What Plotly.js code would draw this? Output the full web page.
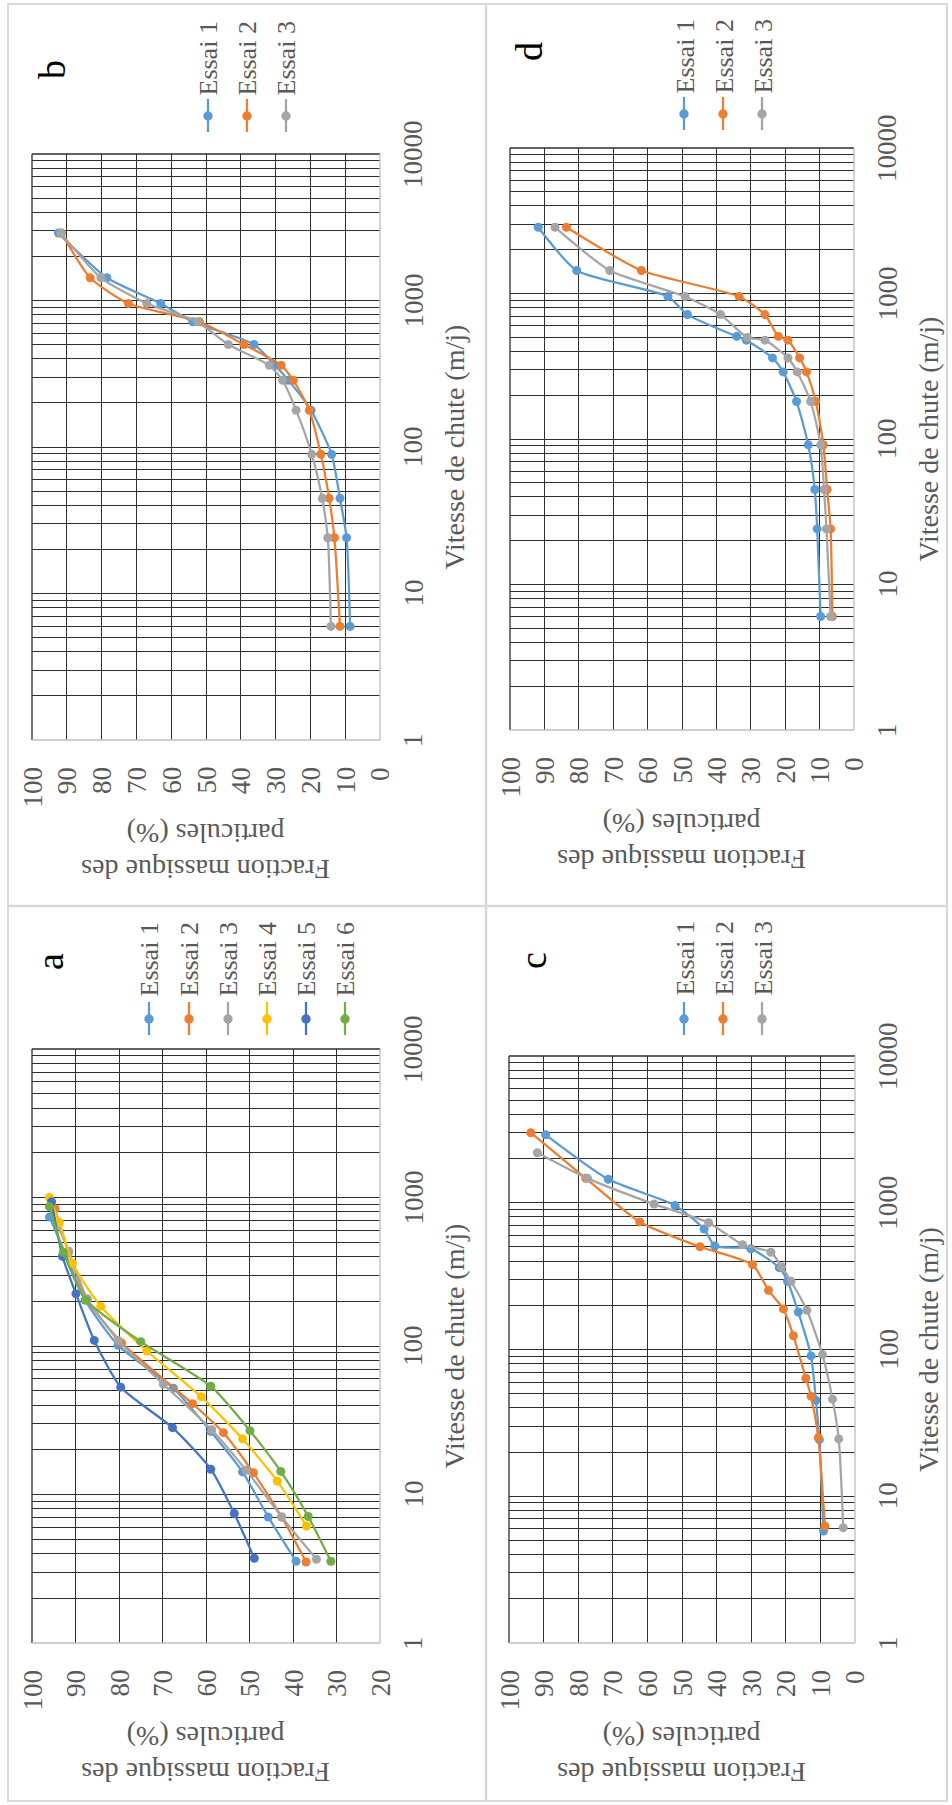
<!DOCTYPE html>
<html><head><meta charset="utf-8">
<script src="https://cdn.plot.ly/plotly-3.0.1.min.js"></script>
<style>html,body{margin:0;padding:0;background:#fff}#chart{width:952px;height:1805px}</style>
</head><body><div id="chart"></div>
<script>
// ---------------- DATA ----------------
const seriesNames = ['Essai 1','Essai 2','Essai 3','Essai 4','Essai 5','Essai 6'];
const seriesColors = ['#5B9BD5','#ED7D31','#A5A5A5','#FFC000','#4472C4','#70AD47'];

// Panel a : velocity (m/j) and mass fraction (%)
const a_v1 = [740, 423, 204, 101, 51.9, 26.6, 14.2, 7.06, 3.55];
const a_f1 = [96.0, 92.4, 87.8, 80.2, 67.5, 58.9, 51.6, 45.7, 39.3];
const a_v2 = [841, 428, 204, 105, 40.9, 26.1, 14.0, 7.06, 3.51];
const a_f2 = [94.7, 91.6, 87.3, 79.4, 63.1, 56.0, 49.1, 42.6, 37.0];
const a_v3 = [869, 437, 208, 109, 55.3, 27.3, 14.6, 7.06, 3.66];
const a_f3 = [95.9, 91.6, 87.3, 80.2, 69.8, 58.7, 50.8, 42.6, 34.6];
const a_v4 = [1000, 679, 360, 185, 92.5, 45.6, 23.7, 12.3, 6.14];
const a_f4 = [96.0, 93.7, 90.7, 84.2, 73.6, 61.1, 51.6, 43.6, 36.9];
const a_v5 = [938, 401, 225, 109, 52.8, 28.2, 14.8, 7.45, 3.72];
const a_f5 = [95.5, 93.0, 89.9, 85.7, 79.6, 67.7, 58.9, 53.5, 48.9];
const a_v6 = [869, 428, 204, 107, 53.6, 26.9, 14.3, 7.11, 3.55];
const a_f6 = [96.0, 92.8, 87.6, 75.0, 58.9, 49.9, 42.8, 36.5, 31.3];

// Panel b
const b_v = [2884, 1429, 953, 716, 501, 361, 285, 178, 89.1, 44.6, 24.0, 5.96];
const b_f1 = [92.4, 78.5, 63.0, 53.8, 36.2, 30.2, 26.3, 19.8, 13.9, 11.5, 9.6, 8.6];
const b_f2 = [91.5, 83.3, 72.3, 51.9, 39.1, 28.4, 24.9, 20.3, 17.0, 14.6, 13.1, 11.5];
const b_f3 = [91.7, 80.2, 67.0, 52.5, 43.6, 31.8, 28.0, 24.1, 19.6, 16.6, 15.0, 14.1];

// Panel c
const c_v1 = [2904, 1445, 959, 662, 507, 485, 361, 292, 180, 90.4, 45.1, 24.3, 5.79];
const c_f1 = [89.4, 71.3, 52.0, 43.6, 40.5, 30.1, 21.9, 19.5, 16.4, 12.7, 11.3, 10.3, 9.1];
const c_v2 = [3000, 1466, 740, 501, 378, 253, 189, 124, 63.7, 48.1, 25.1, 6.27];
const c_f2 = [93.7, 77.8, 62.2, 44.8, 29.6, 25.0, 20.7, 17.8, 14.2, 12.7, 10.6, 8.7];
const c_v3 = [2193, 1466, 979, 731, 518, 460, 366, 292, 185, 92.3, 45.9, 24.6, 6.11];
const c_f3 = [91.8, 77.3, 58.1, 42.3, 32.5, 24.3, 21.2, 18.5, 13.9, 9.4, 6.5, 4.7, 3.4];

// Panel d
const d_v1 = [2851, 1439, 953, 716, 507, 478, 361, 289, 181, 91.2, 45.0, 24.1, 6.03];
const d_f1 = [91.8, 80.6, 54.1, 48.4, 34.1, 31.3, 23.7, 20.6, 16.7, 13.3, 11.4, 10.7, 9.7];
const d_v2 = [2851, 1439, 953, 716, 507, 478, 361, 289, 181, 91.2, 45.0, 24.1, 6.03];
const d_f2 = [83.6, 61.8, 33.4, 25.9, 22.0, 19.2, 15.8, 13.8, 11.1, 8.9, 7.8, 6.8, 6.3];
const d_v3 = [2851, 1439, 953, 716, 498, 478, 361, 289, 181, 91.2, 45.0, 24.1, 6.03];
const d_f3 = [86.9, 71.0, 49.1, 38.8, 31.0, 25.9, 19.2, 16.5, 12.6, 9.7, 8.7, 8.0, 6.8];

// Axis labels
const velTicks = [1, 10, 100, 1000, 10000];
const fracTicksFull = [100, 90, 80, 70, 60, 50, 40, 30, 20, 10, 0];
const fracTicksA = [100, 90, 80, 70, 60, 50, 40, 30, 20];
const xTitle = 'Vitesse de chute (m/j)';
const yTitle = 'Fraction massique des<br>particules (%)';

// ---------------- LAYOUT ----------------
const W = 952, H = 1805;
const FONT = '"Liberation Serif", serif';
const TXT = '#595959';
const GRID = '#2e2e2e';
const EDGE = '#bfbfbf';
const px = x => x / W;
const py = y => 1 - y / H;

const panels = [
  {key:'b', ax:'', box:[32,380,154,740], frange:[100,0], fticks:fracTicksFull,
   series:[[b_v,b_f1],[b_v,b_f2],[b_v,b_f3]], letter:[52,70],
   legX:[208,247,286], legLine:[99,132], legMark:116, legText:98},
  {key:'d', ax:'2', box:[510,854,148,730], frange:[100,0], fticks:fracTicksFull,
   series:[[d_v1,d_f1],[d_v2,d_f2],[d_v3,d_f3]], letter:[529,52],
   legX:[684,723,762], legLine:[97,130], legMark:114, legText:96},
  {key:'a', ax:'3', box:[32,380,1049,1643], frange:[100,20], fticks:fracTicksA,
   series:[[a_v1,a_f1],[a_v2,a_f2],[a_v3,a_f3],[a_v4,a_f4],[a_v5,a_f5],[a_v6,a_f6]], letter:[50,962],
   legX:[149,189,228,267,306,345], legLine:[1002,1035], legMark:1019, legText:999},
  {key:'c', ax:'4', box:[509,855,1056,1643], frange:[100,0], fticks:fracTicksFull,
   series:[[c_v1,c_f1],[c_v2,c_f2],[c_v3,c_f3]], letter:[533,961],
   legX:[684,723,762], legLine:[1002,1035], legMark:1019, legText:998}
];

// log grid values
const velGrid = [];
for (let dec = 0; dec < 4; dec++) for (let m = 1; m <= 9; m++) { const v = m * Math.pow(10, dec); if (v > 1) velGrid.push(v); }
velGrid.push(10000);

const traces = [], annotations = [], shapes = [];
const layout = {
  width: W, height: H, margin: {l:0, r:0, t:0, b:0},
  paper_bgcolor: '#fff', plot_bgcolor: '#fff', showlegend: false,
  font: {family: FONT, color: TXT, size: 27}
};

panels.forEach(p => {
  const xa = 'x' + p.ax, ya = 'y' + p.ax;
  const [x0, x1, y0, y1] = p.box;
  const fmin = Math.min(p.frange[0], p.frange[1]);
  layout['xaxis' + p.ax] = {
    domain: [px(x0), px(x1)], range: p.frange, anchor: ya,
    tickmode: 'array', tickvals: p.fticks.filter(v => v !== fmin),
    showticklabels: false, ticks: '', showgrid: true, gridcolor: GRID, gridwidth: 1,
    zeroline: false, showline: false, fixedrange: true
  };
  layout['yaxis' + p.ax] = {
    domain: [py(y1), py(y0)], type: 'log', range: [0, 4], anchor: xa,
    tickmode: 'array', tickvals: velGrid,
    showticklabels: false, ticks: '', showgrid: true, gridcolor: GRID, gridwidth: 1,
    zeroline: false, showline: false, fixedrange: true
  };
  p.series.forEach((s, i) => {
    traces.push({
      x: s[1], y: s[0], xaxis: xa, yaxis: ya, type: 'scatter', mode: 'lines+markers',
      name: seriesNames[i], line: {color: seriesColors[i], width: 2.25, shape: 'spline', smoothing: 0.6},
      marker: {color: seriesColors[i], size: 9}, cliponaxis: false
    });
  });
  // plot borders
  shapes.push({type:'line', xref:'paper', yref:'paper', x0:px(x0), x1:px(x1), y0:py(y0), y1:py(y0), line:{color:GRID, width:1.3}});
  shapes.push({type:'line', xref:'paper', yref:'paper', x0:px(x0), x1:px(x0), y0:py(y0), y1:py(y1), line:{color:GRID, width:1.3}});
  shapes.push({type:'line', xref:'paper', yref:'paper', x0:px(x0), x1:px(x1), y0:py(y1), y1:py(y1), line:{color:EDGE, width:1.3}});
  shapes.push({type:'line', xref:'paper', yref:'paper', x0:px(x1), x1:px(x1), y0:py(y0), y1:py(y1), line:{color:EDGE, width:1.3}});

  // fraction tick labels (rotated)
  p.fticks.forEach(v => annotations.push({
    xref: xa, x: v, yref: ya + ' domain', y: 0, xanchor: 'center', yanchor: 'top', yshift: -25,
    text: String(v), textangle: -90, showarrow: false, font: {size: 27, color: TXT, family: FONT}
  }));
  // velocity tick labels
  velTicks.forEach(v => annotations.push({
    xref: xa + ' domain', x: 1, yref: ya, y: Math.log10(v), xanchor: 'left', yanchor: 'middle', xshift: 16,
    text: String(v), textangle: -90, showarrow: false, font: {size: 27, color: TXT, family: FONT}
  }));
  // axis titles
  annotations.push({
    xref: xa + ' domain', x: 1, yref: ya + ' domain', y: 0.5, xanchor: 'left', yanchor: 'middle', xshift: 56,
    text: xTitle, textangle: -90, showarrow: false, font: {size: 28, color: TXT, family: FONT}
  });
  annotations.push({
    xref: xa + ' domain', x: 0.5, yref: ya + ' domain', y: 0, xanchor: 'center', yanchor: 'top', yshift: -76,
    text: yTitle, textangle: 180, showarrow: false, font: {size: 28, color: TXT, family: FONT}
  });
  // panel letter
  annotations.push({
    xref: 'paper', x: px(p.letter[0]), yref: 'paper', y: py(p.letter[1]), xanchor: 'center', yanchor: 'middle',
    text: p.key, textangle: -90, showarrow: false, font: {size: 38, color: '#000', family: FONT}
  });
  // custom rotated legend
  p.legX.forEach((lx, i) => {
    shapes.push({type:'line', xref:'paper', yref:'paper', x0:px(lx), x1:px(lx), y0:py(p.legLine[0]), y1:py(p.legLine[1]),
      line:{color: seriesColors[i], width: 2.25}});
    const r = 4.7;
    shapes.push({type:'circle', xref:'paper', yref:'paper', x0:px(lx - r), x1:px(lx + r), y0:py(p.legMark + r), y1:py(p.legMark - r),
      fillcolor: seriesColors[i], line:{color: seriesColors[i], width: 0}});
    annotations.push({
      xref: 'paper', x: px(lx + 0.5), yref: 'paper', y: py(p.legText), xanchor: 'center', yanchor: 'bottom',
      text: seriesNames[i], textangle: -90, showarrow: false, font: {size: 26, color: TXT, family: FONT}
    });
  });
});

// figure frame (cell borders)
const FRAME = '#d9d9d9';
shapes.push({type:'rect', xref:'paper', yref:'paper', x0:px(8), x1:px(947), y0:py(4), y1:py(1801), line:{color:FRAME, width:2}});
shapes.push({type:'line', xref:'paper', yref:'paper', x0:px(486), x1:px(486), y0:py(4), y1:py(1801), line:{color:FRAME, width:2.5}});
shapes.push({type:'line', xref:'paper', yref:'paper', x0:px(8), x1:px(947), y0:py(906), y1:py(906), line:{color:FRAME, width:2.5}});

layout.annotations = annotations;
layout.shapes = shapes;

Plotly.newPlot('chart', traces, layout, {staticPlot: true, displayModeBar: false});
</script>
</body></html>
